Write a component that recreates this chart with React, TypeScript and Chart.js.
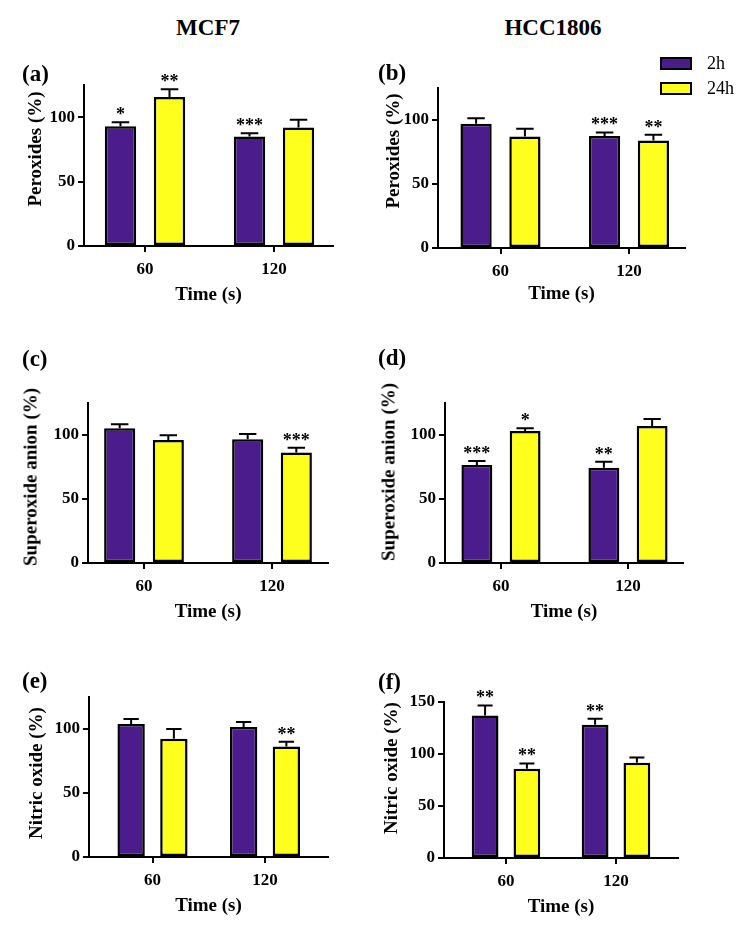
import React, { useEffect, useRef } from 'react';
import { Chart, registerables } from 'chart.js';

Chart.register(...registerables);

// ---------- data ----------
const times = [60, 120];
const seriesNames = ['2h', '24h'];
const columnTitles = ['MCF7', 'HCC1806'];

// (a) MCF7 – peroxides
const aTwoH = [93, 85];
const aTwoHErr = [3, 2.5];
const aDay = [115.7, 92];
const aDayErr = [6, 6];
const aTwoHStars = ['*', '***'];
const aDayStars = ['**', ''];

// (b) HCC1806 – peroxides
const bTwoH = [97, 87.5];
const bTwoHErr = [4.3, 2.8];
const bDay = [87.2, 83.9];
const bDayErr = [6, 4.6];
const bTwoHStars = ['', '***'];
const bDayStars = ['', '**'];

// (c) MCF7 – superoxide anion
const cTwoH = [105.2, 96.6];
const cTwoHErr = [3.2, 4.2];
const cDay = [96, 86.4];
const cDayErr = [3.8, 3.7];
const cTwoHStars = ['', ''];
const cDayStars = ['', '***'];

// (d) HCC1806 – superoxide anion
const dTwoH = [76.5, 74.4];
const dTwoHErr = [3.1, 4.7];
const dDay = [103.1, 107];
const dDayErr = [2.1, 5.5];
const dTwoHStars = ['***', '**'];
const dDayStars = ['*', ''];

// (e) MCF7 – nitric oxide
const eTwoH = [103.9, 101.6];
const eTwoHErr = [3.9, 3.9];
const eDay = [92.4, 86.4];
const eDayErr = [7.6, 3.6];
const eTwoHStars = ['', ''];
const eDayStars = ['', '**'];

// (f) HCC1806 – nitric oxide
const fTwoH = [137.1, 128.2];
const fTwoHErr = [9.6, 5.8];
const fDay = [85.7, 91.5];
const fDayErr = [5.2, 5.1];
const fTwoHStars = ['**', '**'];
const fDayStars = ['**', ''];

const yMaxes = [125, 125, 125, 125, 125, 150];
const yStep = 50;

// ---------- styles ----------
const FONT = '"Liberation Serif", "Times New Roman", serif';
const PURPLE = '#4B1D8C';
const YELLOW = '#FFFF1E';

type Layout = {
  col: number;
  left: number; right: number; top: number; bottom: number;
  p60: number; p120: number;
  xh: number;
  letter: { x: number; y: number };
  yTitle: { x: number; y: number };
};

const panels = [
  { letter: '(a)', yLabel: 'Peroxides (%)', twoH: aTwoH, twoHErr: aTwoHErr, day: aDay, dayErr: aDayErr, twoHStars: aTwoHStars, dayStars: aDayStars, yMax: yMaxes[0],
    layout: { col: 0, left: 84, right: 333, top: 85, bottom: 246, p60: 145, p120: 274, xh: 60, letter: { x: 22, y: 73 }, yTitle: { x: 34, y: 149 } } as Layout },
  { letter: '(b)', yLabel: 'Peroxides (%)', twoH: bTwoH, twoHErr: bTwoHErr, day: bDay, dayErr: bDayErr, twoHStars: bTwoHStars, dayStars: bDayStars, yMax: yMaxes[1],
    layout: { col: 375, left: 438, right: 685, top: 88, bottom: 248, p60: 500.5, p120: 629, xh: 57, letter: { x: 378, y: 72 }, yTitle: { x: 392, y: 151 } } as Layout },
  { letter: '(c)', yLabel: 'Superoxide anion (%)', twoH: cTwoH, twoHErr: cTwoHErr, day: cDay, dayErr: cDayErr, twoHStars: cTwoHStars, dayStars: cDayStars, yMax: yMaxes[2],
    layout: { col: 0, left: 88, right: 328, top: 403, bottom: 563, p60: 144, p120: 272, xh: 60, letter: { x: 22, y: 358 }, yTitle: { x: 30, y: 477 } } as Layout },
  { letter: '(d)', yLabel: 'Superoxide anion (%)', twoH: dTwoH, twoHErr: dTwoHErr, day: dDay, dayErr: dDayErr, twoHStars: dTwoHStars, dayStars: dDayStars, yMax: yMaxes[3],
    layout: { col: 375, left: 445, right: 683, top: 403, bottom: 563, p60: 501, p120: 628, xh: 60, letter: { x: 378, y: 357 }, yTitle: { x: 388, y: 472 } } as Layout },
  { letter: '(e)', yLabel: 'Nitric oxide (%)', twoH: eTwoH, twoHErr: eTwoHErr, day: eDay, dayErr: eDayErr, twoHStars: eTwoHStars, dayStars: eDayStars, yMax: yMaxes[4],
    layout: { col: 0, left: 89, right: 328, top: 697, bottom: 857, p60: 152.5, p120: 265, xh: 60, letter: { x: 22, y: 680 }, yTitle: { x: 35, y: 773 } } as Layout },
  { letter: '(f)', yLabel: 'Nitric oxide (%)', twoH: fTwoH, twoHErr: fTwoHErr, day: fDay, dayErr: fDayErr, twoHStars: fTwoHStars, dayStars: fDayStars, yMax: yMaxes[5],
    layout: { col: 375, left: 444, right: 678, top: 702, bottom: 858, p60: 506, p120: 616, xh: 60, letter: { x: 378, y: 681 }, yTitle: { x: 390, y: 768 } } as Layout },
];

const errorBarPlugin = {
  id: 'errorBarsStars',
  afterDatasetsDraw(chart: any) {
    const { ctx } = chart;
    const yScale = chart.scales.y;
    chart.data.datasets.forEach((ds: any, di: number) => {
      const meta = chart.getDatasetMeta(di);
      meta.data.forEach((bar: any, i: number) => {
        const v = ds.data[i];
        const e = ds.errors[i];
        const topY = yScale.getPixelForValue(v + e);
        const half = bar.width * 0.28;
        ctx.save();
        ctx.strokeStyle = '#000';
        ctx.lineWidth = 2;
        ctx.beginPath();
        ctx.moveTo(bar.x, bar.y);
        ctx.lineTo(bar.x, topY);
        ctx.moveTo(bar.x - half, topY);
        ctx.lineTo(bar.x + half, topY);
        ctx.stroke();
        const s = ds.stars[i];
        if (s) {
          ctx.fillStyle = '#000';
          ctx.font = `bold 18px ${FONT}`;
          ctx.textAlign = 'center';
          ctx.textBaseline = 'alphabetic';
          ctx.fillText(s, bar.x, topY - 2);
        }
        ctx.restore();
      });
    });
  },
};

function Panel({ p }: { p: (typeof panels)[number] }) {
  const ref = useRef<HTMLCanvasElement>(null);
  const L = p.layout;
  const x0 = L.col;
  const y0 = L.top - 30;
  const w = 374;
  const h = L.bottom + L.xh - y0;

  useEffect(() => {
    const k = (L.p120 - L.p60) / (times[1] - times[0]);
    const xMin = times[0] - (L.p60 - L.left) / k;
    const xMax = times[1] + (L.right - L.p120) / k;
    const tickFont = { family: FONT, size: 17, weight: 'bold' as const };
    const chart = new Chart(ref.current!, {
      type: 'bar',
      data: {
        labels: times,
        datasets: [
          {
            label: seriesNames[0],
            data: p.twoH,
            errors: p.twoHErr,
            stars: p.twoHStars,
            backgroundColor: PURPLE,
            borderColor: '#000',
            borderWidth: 2.5,
            borderSkipped: false,
            categoryPercentage: 0.76,
            barPercentage: 0.64,
          } as any,
          {
            label: seriesNames[1],
            data: p.day,
            errors: p.dayErr,
            stars: p.dayStars,
            backgroundColor: YELLOW,
            borderColor: '#000',
            borderWidth: 2.5,
            borderSkipped: false,
            categoryPercentage: 0.76,
            barPercentage: 0.64,
          } as any,
        ],
      },
      options: {
        responsive: false,
        animation: false,
        layout: { padding: { top: L.top - y0, left: 0, right: x0 + w - L.right, bottom: 0 } },
        plugins: { legend: { display: false }, tooltip: { enabled: false } },
        scales: {
          x: {
            type: 'linear',
            min: xMin,
            max: xMax,
            offset: false,
            afterBuildTicks: (s: any) => {
              s.ticks = times.map((v) => ({ value: v }));
            },
            afterFit: (s: any) => {
              s.height = L.xh;
            },
            grid: { display: true, drawOnChartArea: false, drawTicks: true, tickLength: 6, color: '#000', lineWidth: 2, offset: false },
            border: { display: true, color: '#000', width: 2 },
            ticks: { color: '#000', font: tickFont, padding: 7, maxRotation: 0, autoSkip: false, callback: (v: any) => String(v) },
            title: { display: true, text: 'Time (s)', color: '#000', font: { family: FONT, size: 19, weight: 'bold' }, padding: { top: 0, bottom: 0 } },
          },
          y: {
            min: 0,
            max: p.yMax,
            afterFit: (s: any) => {
              s.width = L.left - x0;
            },
            grid: { display: true, drawOnChartArea: false, drawTicks: true, tickLength: 6, color: '#000', lineWidth: 2 },
            border: { display: true, color: '#000', width: 2 },
            ticks: { stepSize: yStep, includeBounds: false, color: '#000', font: tickFont, padding: 3 },
          },
        },
      } as any,
      plugins: [errorBarPlugin],
    });
    return () => chart.destroy();
  }, []);

  return (
    <>
      <canvas ref={ref} width={w} height={h} style={{ position: 'absolute', left: x0, top: y0, width: w, height: h }} />
      <div style={{ position: 'absolute', left: L.letter.x, top: L.letter.y, transform: 'translateY(-50%)', fontSize: 23, fontWeight: 'bold', lineHeight: 1, whiteSpace: 'nowrap' }}>
        {p.letter}
      </div>
      <div style={{ position: 'absolute', left: L.yTitle.x, top: L.yTitle.y, transform: 'translate(-50%, -50%) rotate(-90deg)', fontSize: 19, fontWeight: 'bold', lineHeight: 1, whiteSpace: 'nowrap' }}>
        {p.yLabel}
      </div>
    </>
  );
}

export default function App() {
  const legendBox = (color: string, top: number) => (
    <div style={{ position: 'absolute', left: 660, top, width: 28, height: 9, background: color, border: '2px solid #000' }} />
  );
  return (
    <div style={{ position: 'absolute', left: 0, top: 0, width: 749, height: 932, background: '#fff', fontFamily: FONT, color: '#000', overflow: 'hidden' }}>
      <div style={{ position: 'absolute', left: 208, top: 27, transform: 'translate(-50%, -50%)', fontSize: 23, fontWeight: 'bold', lineHeight: 1, whiteSpace: 'nowrap' }}>{columnTitles[0]}</div>
      <div style={{ position: 'absolute', left: 553, top: 27, transform: 'translate(-50%, -50%)', fontSize: 23, fontWeight: 'bold', lineHeight: 1, whiteSpace: 'nowrap' }}>{columnTitles[1]}</div>
      {panels.map((p) => (
        <Panel key={p.letter} p={p} />
      ))}
      {legendBox(PURPLE, 57)}
      {legendBox(YELLOW, 82)}
      <div style={{ position: 'absolute', left: 707, top: 63, transform: 'translateY(-50%)', fontSize: 18, lineHeight: 1 }}>{seriesNames[0]}</div>
      <div style={{ position: 'absolute', left: 707, top: 88, transform: 'translateY(-50%)', fontSize: 18, lineHeight: 1 }}>{seriesNames[1]}</div>
    </div>
  );
}
